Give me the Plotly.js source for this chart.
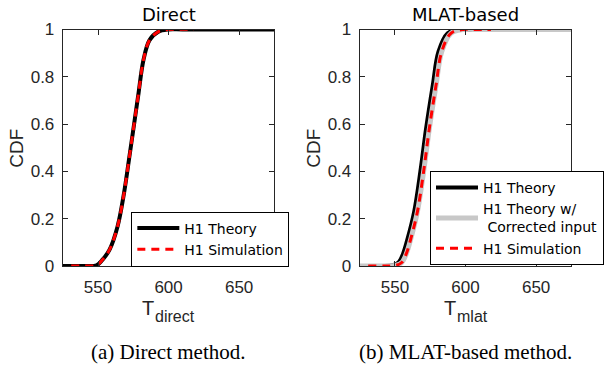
<!DOCTYPE html>
<html>
<head>
<meta charset="utf-8">
<script src="https://cdn.plot.ly/plotly-3.0.1.min.js"></script>
<style>html,body{margin:0;padding:0;background:#fff;}#chart{width:604px;height:367px;}</style>
</head>
<body>
<div id="chart"></div>
<script>
// ---- data ----
const xTicks = [550, 600, 650];
const yTicks = [0, 0.2, 0.4, 0.6, 0.8, 1];
const yTickText = ['0', '0.2', '0.4', '0.6', '0.8', '1'];

// (a) Direct method
const tDirectTheory = [525, 540, 549, 553.4, 558.1, 563.8, 568.4, 571.9, 575.3, 578.7, 582.2, 586.5, 592.5, 600, 610, 675];
const cdfDirectTheory = [0, 0, 0.003, 0.028, 0.068, 0.166, 0.307, 0.448, 0.589, 0.730, 0.871, 0.955, 0.99, 1, 1, 1];
const tDirectSim = [531, 540, 549, 553.4, 558.1, 563.8, 568.4, 571.9, 575.3, 578.7, 582.2, 586.5, 592.5, 600, 618];
const cdfDirectSim = [0, 0, 0.003, 0.028, 0.068, 0.166, 0.307, 0.448, 0.589, 0.730, 0.871, 0.955, 0.99, 1, 1];

// (b) MLAT-based method
const tMlatTheory = [525, 540, 548.5, 552.5, 555.6, 559, 563.6, 568, 572, 576.8, 580.8, 587.3, 595, 605, 675];
const cdfMlatTheory = [0, 0, 0.003, 0.015, 0.05, 0.117, 0.23, 0.4, 0.58, 0.765, 0.906, 0.984, 1, 1, 1];
const tMlatCorrected = [525, 542, 550.8, 554.8, 557.9, 561.3, 565.9, 570.3, 574.3, 579.1, 583.1, 589.6, 598, 607, 675];
const cdfMlatCorrected = [0, 0, 0.003, 0.015, 0.05, 0.117, 0.23, 0.4, 0.58, 0.765, 0.906, 0.984, 1, 1, 1];
const tMlatSim = [531, 542, 550.8, 554.8, 557.9, 561.3, 565.9, 570.3, 574.3, 579.1, 583.1, 589.6, 598, 607, 618];
const cdfMlatSim = [0, 0, 0.003, 0.015, 0.05, 0.117, 0.23, 0.4, 0.58, 0.765, 0.906, 0.984, 1, 1, 1];

const W = 604, H = 367;
const px = v => v / W, py = v => 1 - v / H;
const axCol = '#262626';
const tickFont = {family: 'Liberation Sans, Arial, sans-serif', size: 17, color: axCol};

const blackLine = {color: '#000000', width: 4, shape: 'spline'};
const grayLine = {color: '#c8c8c8', width: 5, shape: 'spline'};
const redLine = {color: '#ff0000', width: 3, dash: '8px,6px', shape: 'spline'};

const traces = [
  {x: tDirectTheory, y: cdfDirectTheory, mode: 'lines', name: 'H1 Theory', line: blackLine, xaxis: 'x', yaxis: 'y', legend: 'legend'},
  {x: tDirectSim, y: cdfDirectSim, mode: 'lines', name: 'H1 Simulation', line: redLine, xaxis: 'x', yaxis: 'y', legend: 'legend'},
  {x: tMlatTheory, y: cdfMlatTheory, mode: 'lines', name: 'H1 Theory', line: blackLine, xaxis: 'x2', yaxis: 'y2', legend: 'legend2'},
  {x: tMlatCorrected, y: cdfMlatCorrected, mode: 'lines', name: 'H1 Theory w/<br>\u00a0Corrected input', line: grayLine, xaxis: 'x2', yaxis: 'y2', legend: 'legend2'},
  {x: tMlatSim, y: cdfMlatSim, mode: 'lines', name: 'H1 Simulation', line: redLine, xaxis: 'x2', yaxis: 'y2', legend: 'legend2'}
];

function xax(l, r, anchor) {
  return {domain: [px(l), px(r)], range: [525, 675], tickvals: xTicks, ticks: 'inside', ticklen: 5,
    tickcolor: axCol, mirror: 'ticks', showline: true, linecolor: axCol, linewidth: 1, showgrid: false,
    zeroline: false, tickfont: tickFont, anchor: anchor, ticklabelstandoff: 6};
}
function yax(anchor) {
  return {domain: [py(266), py(29.5)], range: [0, 1], tickvals: yTicks, ticktext: yTickText, ticks: 'inside',
    ticklen: 5, tickcolor: axCol, mirror: 'ticks', showline: true, linecolor: axCol, linewidth: 1,
    showgrid: false, zeroline: false, tickfont: tickFont, anchor: anchor, ticklabelstandoff: 4};
}

const legFont = {family: 'DejaVu Sans, sans-serif', size: 14, color: '#000'};
const titleFont = {family: 'DejaVu Sans, sans-serif', size: 18, color: '#000'};
const axTitleFont = {family: 'Liberation Sans, Arial, sans-serif', size: 19, color: axCol};
const subFont = {family: 'Liberation Sans, Arial, sans-serif', size: 16, color: axCol};
const capFont = {family: 'Liberation Serif, Times New Roman, serif', size: 21, color: '#000'};

function ann(text, x, y, font, extra) {
  return Object.assign({text: text, x: px(x), y: py(y), xref: 'paper', yref: 'paper', showarrow: false,
    xanchor: 'center', yanchor: 'middle', font: font}, extra || {});
}

const layout = {
  width: W, height: H, margin: {l: 0, r: 0, t: 0, b: 0},
  paper_bgcolor: '#fff', plot_bgcolor: '#fff', showlegend: true,
  xaxis: xax(64, 280, 'y'), yaxis: yax('x'),
  xaxis2: xax(367, 583, 'y2'), yaxis2: yax('x2'),
  legend: {x: px(134), y: py(211.5), xanchor: 'left', yanchor: 'top', bgcolor: '#fff', bordercolor: '#000',
    borderwidth: 1, font: legFont, tracegroupgap: 0, itemwidth: 42},
  legend2: {x: px(439), y: py(171), xanchor: 'left', yanchor: 'top', bgcolor: '#fff', bordercolor: '#000',
    borderwidth: 1, font: legFont, tracegroupgap: 0, itemwidth: 42},
  annotations: [
    ann('Direct', 172, 14, titleFont),
    ann('MLAT-based', 475, 14, titleFont),
    ann('CDF', 17, 148, axTitleFont, {textangle: -90}),
    ann('CDF', 320, 148, axTitleFont, {textangle: -90}),
    ann('T', 151, 308, {family: 'Liberation Sans, Arial, sans-serif', size: 20, color: axCol}),
    ann('direct', 179, 316, subFont),
    ann('T', 459, 308, {family: 'Liberation Sans, Arial, sans-serif', size: 20, color: axCol}),
    ann('mlat', 482, 316, subFont),
    ann('(a) Direct method.', 172, 352, capFont),
    ann('(b) MLAT-based method.', 475, 352, capFont)
  ]
};

Plotly.newPlot('chart', traces, layout, {staticPlot: true, displayModeBar: false});
</script>
</body>
</html>
